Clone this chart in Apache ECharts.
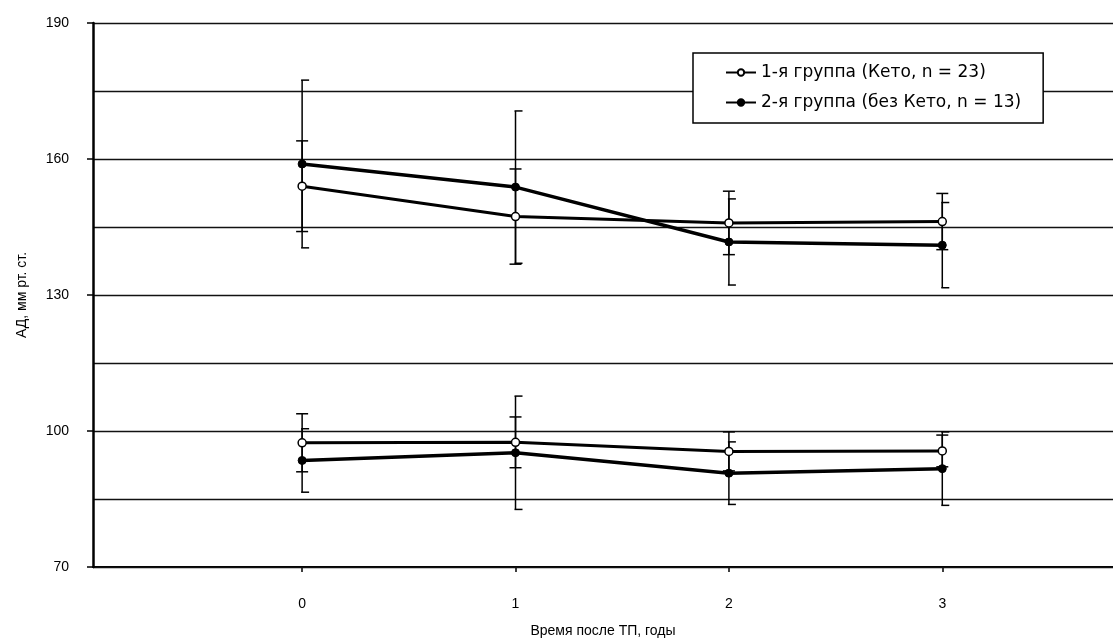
<!DOCTYPE html>
<html>
<head>
<meta charset="utf-8">
<script src="https://cdn.jsdelivr.net/npm/echarts@6/dist/echarts.min.js"></script>
<style>
html,body{margin:0;padding:0;background:#fff;}
#chart{width:1113px;height:643px;}
</style>
</head>
<body>
<div id="chart"></div>
<script>
// ---- data ----
var years = [0, 1, 2, 3];
var yTickLabels = [70, 100, 130, 160, 190];
var seriesNames = ['1-я группа (Кето, n = 23)', '2-я группа (без Кето, n = 13)'];
// systolic pressure
var sys1 = [154.0, 147.3, 145.9, 146.2];
var sys1Err = [10.0, 10.5, 7.0, 6.2];
var sys2 = [158.9, 153.8, 141.7, 141.0];
var sys2Err = [18.5, 16.8, 9.5, 9.4];
// diastolic pressure
var dia1 = [97.4, 97.5, 95.5, 95.6];
var dia1Err = [6.4, 5.6, 4.3, 3.5];
var dia2 = [93.5, 95.2, 90.7, 91.7];
var dia2Err = [7.0, 12.5, 6.9, 8.1];

function pairs(vals) { return years.map(function (x, i) { return [x, vals[i]]; }); }
function triples(vals, errs) { return years.map(function (x, i) { return [x, vals[i], errs[i]]; }); }

function errRender(capL, capR) {
  return function (params, api) {
    var x = api.value(0), m = api.value(1), e = api.value(2);
    var top = api.coord([x, m + e]);
    var bot = api.coord([x, m - e]);
    var st = { stroke: '#000', lineWidth: 1.5 };
    return {
      type: 'group',
      children: [
        { type: 'line', shape: { x1: top[0], y1: top[1], x2: bot[0], y2: bot[1] }, style: st },
        { type: 'line', shape: { x1: top[0] - capL, y1: top[1], x2: top[0] + capR, y2: top[1] }, style: st },
        { type: 'line', shape: { x1: bot[0] - capL, y1: bot[1], x2: bot[0] + capR, y2: bot[1] }, style: st }
      ]
    };
  };
}

var font = 'Liberation Sans, Arial, sans-serif';
var line1Style = {
  type: 'line', name: seriesNames[0], symbol: 'circle', symbolSize: 8,
  lineStyle: { color: '#000', width: 3 },
  itemStyle: { color: '#fff', borderColor: '#000', borderWidth: 1.5 },
  z: 5, silent: true, animation: false
};
var line2Style = {
  type: 'line', name: seriesNames[1], symbol: 'circle', symbolSize: 8,
  lineStyle: { color: '#000', width: 3.5 },
  itemStyle: { color: '#000', borderColor: '#000', borderWidth: 1 },
  z: 4, silent: true, animation: false
};
function mk(base, data) { var o = Object.assign({}, base); o.data = data; return o; }
function eb(data, capL, capR, name) {
  return { type: 'custom', name: name, data: data, renderItem: errRender(capL, capR), z: 3, silent: true, animation: false };
}

var chart = echarts.init(document.getElementById('chart'), null, { renderer: 'canvas' });
chart.setOption({
  backgroundColor: '#fff',
  animation: false,
  textStyle: { fontFamily: font },
  grid: { left: 93, right: 0, top: 23, bottom: 74, containLabel: false },
  legend: {
    data: seriesNames,
    orient: 'vertical',
    left: 693, top: 53,
    padding: [11, 22, 12, 32],
    itemGap: 13,
    itemWidth: 30, itemHeight: 8,
    backgroundColor: '#fff',
    borderColor: '#000', borderWidth: 1.5,
    textStyle: { fontFamily: 'DejaVu Sans, sans-serif', fontSize: 17, color: '#000' }
  },
  xAxis: {
    type: 'value', min: -0.98, max: 3.8,
    name: 'Время после ТП, годы', nameLocation: 'middle', nameGap: 57,
    nameTextStyle: { fontSize: 14, color: '#000', fontFamily: font },
    axisLine: { show: true, onZero: false, lineStyle: { color: '#000', width: 2 } },
    axisTick: { show: true, customValues: years, length: 5, lineStyle: { color: '#000', width: 1.5 } },
    axisLabel: { customValues: years, margin: 30, fontSize: 14, color: '#000', fontFamily: font },
    splitLine: { show: false }
  },
  yAxis: [{
    type: 'value', min: 70, max: 190, interval: 15,
    name: 'АД, мм рт. ст.', nameLocation: 'middle', nameGap: 64, nameRotate: 90,
    nameTextStyle: { fontSize: 14, color: '#000', fontFamily: font },
    axisLine: { show: true, onZero: false, lineStyle: { color: '#000', width: 2.5 } },
    axisTick: { show: true, customValues: yTickLabels, length: 6, lineStyle: { color: '#000', width: 1.5 } },
    axisLabel: { customValues: yTickLabels, margin: 24, fontSize: 14, color: '#000', fontFamily: font },
    splitLine: { show: false },
    z: 3
  }, {
    type: 'value', min: 70, max: 190, interval: 15, position: 'left',
    axisLine: { show: false }, axisTick: { show: false }, axisLabel: { show: false },
    splitLine: { show: true, lineStyle: { color: '#111', width: 1.3 } },
    z: 1
  }],
  series: [
    eb(triples(sys1, sys1Err), 6, 6, 'eb1'),
    eb(triples(dia1, dia1Err), 6, 6, 'eb1d'),
    eb(triples(sys2, sys2Err), 1, 7, 'eb2'),
    eb(triples(dia2, dia2Err), 1, 7, 'eb2d'),
    mk(line1Style, pairs(sys1)),
    mk(line2Style, pairs(sys2)),
    mk(line1Style, pairs(dia1)),
    mk(line2Style, pairs(dia2))
  ]
});
</script>
</body>
</html>
